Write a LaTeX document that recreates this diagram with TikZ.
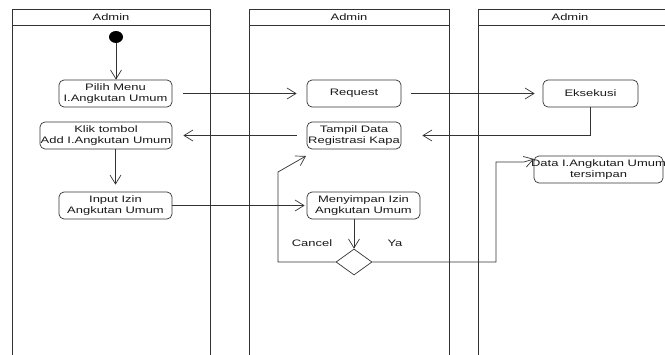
\documentclass[tikz,border=0pt]{standalone}
\usepackage{fontspec}
\setmainfont{Liberation Sans}[FakeStretch=1.38]
\usetikzlibrary{arrows.meta,shapes.geometric}
\begin{document}
\begin{tikzpicture}[x=1pt,y=-1pt,
  lane/.style={draw=black!80,line width=0.8pt},
  txt/.style={inner sep=0pt,align=center,text=black!90,font=\fontsize{9.4}{11}\selectfont},
  act/.style={draw=black!80,line width=0.7pt,rounded corners=5pt,minimum height=27pt,inner sep=0pt},
  flow/.style={draw=black!80,line width=0.7pt,-{Straight Barb[length=9pt,width=11pt]}}]
\useasboundingbox (0,0) rectangle (665,355);
% swimlanes
\draw[lane] (12,355) -- (12,9) -- (210,9) -- (210,355);
\draw[lane] (12,25) -- (210,25);
\draw[lane] (249,355) -- (249,9) -- (449,9) -- (449,355);
\draw[lane] (249,25) -- (449,25);
\draw[lane] (478,355) -- (478,9) -- (665,9);
\draw[lane] (478,25) -- (665,25);
\node[txt] (h1) at (111,17) {Admin};
\node[txt] (h2) at (349,17) {Admin};
\node[txt] (h3) at (570,17) {Admin};
% nodes
\node[fill=black,ellipse,minimum width=14pt,minimum height=12pt,inner sep=0pt] (start) at (116,37) {};
\node[act,minimum width=113pt,label={[txt]center:{Pilih Menu\\I.Angkutan Umum}}] (pilih) at (115.5,93.5) {};
\node[act,minimum width=132pt,label={[txt]center:{Klik tombol\\Add I.Angkutan Umum}}] (klik) at (106,135.5) {};
\node[act,minimum width=113pt,label={[txt]center:{Input Izin\\Angkutan Umum}}] (input) at (115.5,205.5) {};
\node[act,minimum width=94pt,label={[txt]center:{Request}}] (request) at (354,93.5) {};
\node[act,minimum width=94pt,label={[txt]center:{Tampil Data\\Registrasi Kapa}}] (tampil) at (354,135.5) {};
\node[act,minimum width=113pt,label={[txt]center:{Menyimpan Izin\\Angkutan Umum}}] (menyimpan) at (363.5,205.5) {};
\node[act,minimum width=95pt,label={[txt]center:{Eksekusi}}] (eksekusi) at (590.5,93.5) {};
\node[act,minimum width=129pt,label={[txt]center:{Data I.Angkutan Umum\\tersimpan}}] (data) at (598.5,169.5) {};
\node[draw=black!80,line width=0.7pt,diamond,minimum width=36pt,minimum height=26pt,inner sep=0pt] (dia) at (354,262) {};
\node[txt] (cancel) at (312,243) {Cancel};
\node[txt] (ya) at (395,243) {Ya};
% connectors
\draw[flow] (start) -- (start |- pilih.north);
\draw[flow,shorten <=11pt,shorten >=10pt] (pilih.east) -- (request.west);
\draw[flow,shorten <=10pt,shorten >=8pt] (request.east) -- (eksekusi.west);
\draw[flow,shorten >=21pt] (eksekusi.south) |- (tampil.east);
\draw[flow,shorten <=10pt,shorten >=11pt] (tampil.west) -- (klik.east);
\draw[flow,shorten >=7pt] (input.north |- klik.south) -- (input.north);
\draw[flow,shorten >=2pt] (input.east) -- (menyimpan.west);
\draw[flow] (dia.north |- menyimpan.south) -- (dia.north);
\coordinate (c1) at (278,262);
\coordinate (c2) at (278,172);
\coordinate (ct) at (306,156);
\draw[flow] (dia.west) -- (c1) -- (c2) -- (ct);
\coordinate (y1) at (496,262);
\coordinate (y2) at (496,162);
\coordinate (y3) at (524,162);
\coordinate (yt) at (534,159);
\draw[flow] (dia.east) -- (y1) -- (y2) -- (y3) -- (yt);
\end{tikzpicture}
\end{document}
